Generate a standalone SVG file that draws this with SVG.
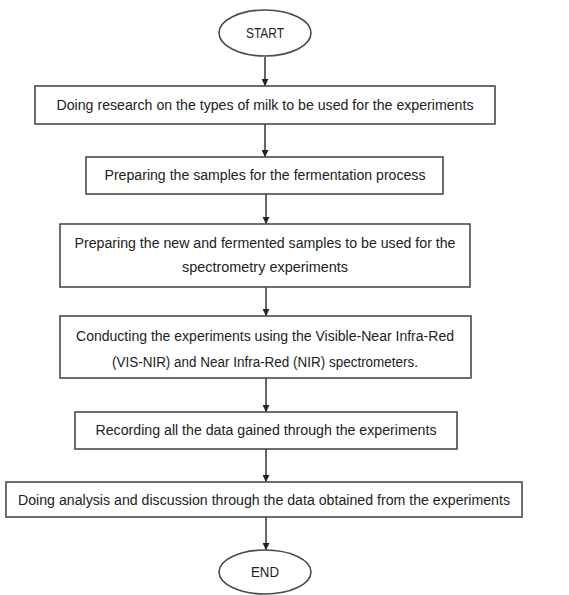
<svg xmlns="http://www.w3.org/2000/svg" width="569" height="595" viewBox="0 0 569 595">
<style>
.box{fill:#fff;stroke:#4a4a4a;stroke-width:1.6}
.t{font-family:"Liberation Sans",Arial,sans-serif;font-size:14px;fill:#222;text-anchor:middle}
.c{stroke:#333;stroke-width:1.5;fill:none;marker-end:url(#ah)}
</style>
<defs>
<marker id="ah" viewBox="0 0 10 10" refX="10" refY="5" markerWidth="7" markerHeight="7" markerUnits="userSpaceOnUse" orient="auto">
<path d="M0,0 L10,5 L0,10 z" fill="#222"/>
</marker>
</defs>
<rect width="569" height="595" fill="#fff"/>
<g id="connectors">
<line class="c" x1="265" y1="57" x2="265" y2="86"/>
<line class="c" x1="265" y1="124" x2="265" y2="157"/>
<line class="c" x1="266" y1="194" x2="266" y2="224"/>
<line class="c" x1="266" y1="287" x2="266" y2="316"/>
<line class="c" x1="266" y1="378" x2="266" y2="412"/>
<line class="c" x1="266" y1="449" x2="266" y2="482"/>
<line class="c" x1="266" y1="517" x2="266" y2="550"/>
</g>
<g id="start">
<ellipse class="box" cx="265" cy="33" rx="46" ry="23"/>
<text class="t" x="265" y="38" textLength="38" lengthAdjust="spacingAndGlyphs">START</text>
</g>
<g id="step1">
<rect class="box" x="35" y="86" width="460" height="38"/>
<text class="t" x="265" y="110" textLength="417" lengthAdjust="spacingAndGlyphs">Doing research on the types of milk to be used for the experiments</text>
</g>
<g id="step2">
<rect class="box" x="86" y="157" width="357" height="37"/>
<text class="t" x="265" y="180" textLength="321" lengthAdjust="spacingAndGlyphs">Preparing the samples for the fermentation process</text>
</g>
<g id="step3">
<rect class="box" x="60" y="224" width="410" height="63"/>
<text class="t" x="265" y="248" textLength="381" lengthAdjust="spacingAndGlyphs">Preparing the new and fermented samples to be used for the</text>
<text class="t" x="265" y="272" textLength="166" lengthAdjust="spacingAndGlyphs">spectrometry experiments</text>
</g>
<g id="step4">
<rect class="box" x="60" y="316" width="411" height="62"/>
<text class="t" x="265" y="341" textLength="378" lengthAdjust="spacingAndGlyphs">Conducting the experiments using the Visible-Near Infra-Red</text>
<text class="t" x="265" y="367" textLength="306" lengthAdjust="spacingAndGlyphs">(VIS-NIR) and Near Infra-Red (NIR) spectrometers.</text>
</g>
<g id="step5">
<rect class="box" x="75" y="412" width="382" height="37"/>
<text class="t" x="266" y="435" textLength="341" lengthAdjust="spacingAndGlyphs">Recording all the data gained through the experiments</text>
</g>
<g id="step6">
<rect class="box" x="6" y="482" width="516" height="35"/>
<text class="t" x="264" y="505" textLength="492" lengthAdjust="spacingAndGlyphs">Doing analysis and discussion through the data obtained from the experiments</text>
</g>
<g id="end">
<ellipse class="box" cx="265" cy="572" rx="46" ry="22"/>
<text class="t" x="265" y="577" textLength="28" lengthAdjust="spacingAndGlyphs">END</text>
</g>
</svg>
